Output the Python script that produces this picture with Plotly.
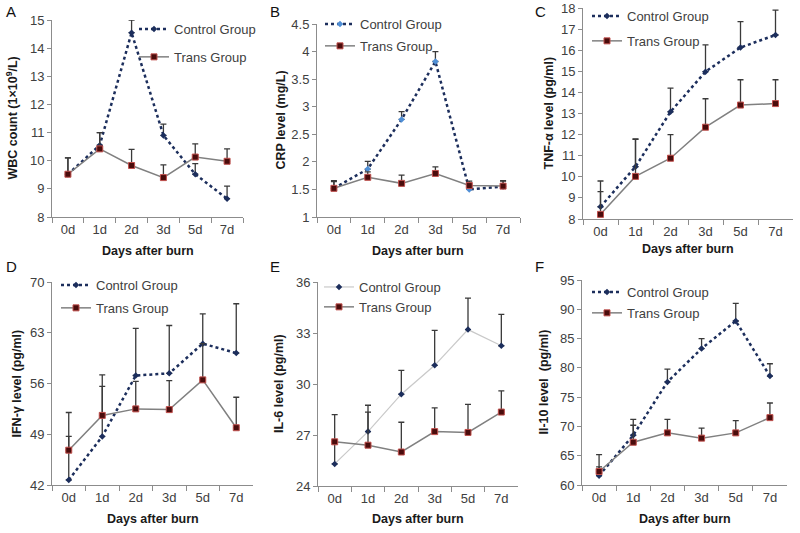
import plotly.graph_objects as go

# Shared categories
days = ["0d", "1d", "2d", "3d", "5d", "7d"]

# A - WBC count
wbc_ctrl = [9.52, 10.55, 14.55, 10.9, 9.52, 8.65]
wbc_ctrl_sd = [0.58, 0.45, 0.45, 0.4, 0.38, 0.45]
wbc_trans = [9.52, 10.42, 9.83, 9.4, 10.13, 9.98]
wbc_trans_sd = [0.58, 0.58, 0.57, 0.45, 0.47, 0.44]

# B - CRP
crp_ctrl = [1.52, 1.87, 2.77, 3.82, 1.5, 1.55]
crp_ctrl_sd = [0.14, 0.14, 0.14, 0.18, 0.12, 0.1]
crp_trans = [1.52, 1.72, 1.61, 1.79, 1.57, 1.56]
crp_trans_sd = [0.12, 0.1, 0.15, 0.12, 0.08, 0.1]

# C - TNF-alpha
tnf_ctrl = [8.58, 10.48, 13.08, 14.98, 16.13, 16.72]
tnf_ctrl_sd = [1.22, 1.32, 1.12, 1.27, 1.22, 1.18]
tnf_trans = [8.22, 10.02, 10.88, 12.35, 13.4, 13.47]
tnf_trans_sd = [1.08, 1.75, 1.12, 1.35, 1.2, 1.13]

# D - IFN-gamma
ifn_ctrl = [42.7, 48.7, 57.1, 57.4, 61.5, 60.2]
ifn_ctrl_sd = [6.0, 6.9, 6.5, 6.6, 4.1, 6.8]
ifn_trans = [46.8, 51.6, 52.5, 52.4, 56.5, 49.9]
ifn_trans_sd = [5.2, 5.6, 3.8, 4.0, 5.0, 4.2]

# E - IL-6
il6_ctrl = [25.3, 27.2, 29.4, 31.1, 33.2, 32.25]
il6_ctrl_sd = [1.3, 1.15, 1.4, 2.05, 1.85, 1.85]
il6_trans = [26.6, 26.4, 26.0, 27.2, 27.15, 28.35]
il6_trans_sd = [1.6, 2.35, 1.75, 1.4, 1.65, 1.25]

# F - IL-10
il10_ctrl = [61.6, 68.5, 77.6, 83.3, 88.0, 78.6]
il10_ctrl_sd = [1.5, 1.7, 2.2, 1.7, 3.0, 2.1]
il10_trans = [62.3, 67.3, 68.9, 68.0, 68.9, 71.5]
il10_trans_sd = [2.9, 3.9, 2.3, 1.7, 2.1, 2.5]

W, H = 800, 533
NAVY = "#1c2e5c"
FONT = "Liberation Sans, Arial, sans-serif"


def px_x(v):
    return v / W


def px_y(v):
    return 1 - v / H


# layout of each panel in pixels: plot box, legend spot (left, top, gap), label spots
panels = [
    dict(letter="A", ctrl=wbc_ctrl, ctrl_sd=wbc_ctrl_sd, trans=wbc_trans, trans_sd=wbc_trans_sd,
         ytitle="WBC count (1×10<sup>9</sup>/L)", yr=[8, 15], dtick=1,
         box=(52, 243, 20, 217), leg=(134, 14, 8), letter_xy=(4, 12), ytitle_x=12, xtitle_y=251,
         mcolor=NAVY, dot=True),
    dict(letter="B", ctrl=crp_ctrl, ctrl_sd=crp_ctrl_sd, trans=crp_trans, trans_sd=crp_trans_sd,
         ytitle="CRP level (mg/L)", yr=[1, 4.5], dtick=0.5,
         box=(317, 520, 24, 217), leg=(320, 9, 2), letter_xy=(268, 12), ytitle_x=280, xtitle_y=251,
         mcolor="#4f8fd6", dot=True),
    dict(letter="C", ctrl=tnf_ctrl, ctrl_sd=tnf_ctrl_sd, trans=tnf_trans, trans_sd=tnf_trans_sd,
         ytitle="TNF-α level (pg/ml)", yr=[8, 18], dtick=1,
         box=(583, 793, 8, 219), leg=(587, 1, 5), letter_xy=(533, 12), ytitle_x=548, xtitle_y=249,
         mcolor=NAVY, dot=True),
    dict(letter="D", ctrl=ifn_ctrl, ctrl_sd=ifn_ctrl_sd, trans=ifn_trans, trans_sd=ifn_trans_sd,
         ytitle="IFN-γ level (pg/ml)", yr=[42, 70], dtick=7,
         box=(52, 253, 282, 485), leg=(56, 270, 3), letter_xy=(4, 266), ytitle_x=16, xtitle_y=519,
         mcolor=NAVY, dot=True),
    dict(letter="E", ctrl=il6_ctrl, ctrl_sd=il6_ctrl_sd, trans=il6_trans, trans_sd=il6_trans_sd,
         ytitle="IL-6 level (pg/ml)", yr=[24, 36], dtick=3,
         box=(318, 518, 282, 486), leg=(319, 272, 0), letter_xy=(268, 266), ytitle_x=279, xtitle_y=519,
         mcolor=NAVY, dot=False),
    dict(letter="F", ctrl=il10_ctrl, ctrl_sd=il10_ctrl_sd, trans=il10_trans, trans_sd=il10_trans_sd,
         ytitle="Il-10 level&nbsp; (pg/ml)", yr=[60, 95], dtick=5,
         box=(582, 787, 280, 485), leg=(587, 277, 1), letter_xy=(533, 266), ytitle_x=543, xtitle_y=519,
         mcolor=NAVY, dot=True),
]

fig = go.Figure()
layout = {}
annotations = []

for i, p in enumerate(panels, start=1):
    sfx = "" if i == 1 else str(i)
    xa, ya = "x" + sfx, "y" + sfx
    leg = "legend" + sfx
    x0, x1, y0, y1 = p["box"]

    if p["dot"]:
        cline = dict(color=NAVY, width=2.5, dash="dot")
    else:
        cline = dict(color="#c9c9c9", width=1.2)

    fig.add_trace(go.Scatter(
        x=days, y=p["ctrl"], name="Control Group", mode="lines+markers",
        line=cline, marker=dict(symbol="diamond", size=5, color=p["mcolor"]),
        error_y=dict(type="data", symmetric=False, array=p["ctrl_sd"], arrayminus=[0] * 6,
                     color="#3a3a3a", thickness=1.3, width=3),
        xaxis=xa, yaxis=ya, legend=leg, legendgroup="c" + sfx,
    ))
    fig.add_trace(go.Scatter(
        x=days, y=p["trans"], name="Trans Group", mode="lines+markers",
        line=dict(color="#808080", width=1.5),
        marker=dict(symbol="square", size=6, color="#4a0c0c", line=dict(color="#c0504d", width=1)),
        error_y=dict(type="data", symmetric=False, array=p["trans_sd"], arrayminus=[0] * 6,
                     color="#3a3a3a", thickness=1.3, width=3),
        xaxis=xa, yaxis=ya, legend=leg, legendgroup="t" + sfx,
    ))

    axis_common = dict(
        showline=True, linecolor="#8c8c8c", linewidth=1, showgrid=False, zeroline=False,
        ticks="outside", tickcolor="#8c8c8c", ticklen=5, automargin=False,
        tickfont=dict(family=FONT, size=13, color="#404040"),
    )
    layout["xaxis" + sfx] = dict(
        axis_common, domain=[px_x(x0), px_x(x1)], anchor=ya, type="category",
        range=[-0.5, 5.5], tickson="boundaries",
    )
    layout["yaxis" + sfx] = dict(
        axis_common, domain=[px_y(y1), px_y(y0)], anchor=xa, range=p["yr"],
        dtick=p["dtick"], tick0=p["yr"][0], ticklen=4,
    )

    lx, ly, gap = p["leg"]
    layout[leg] = dict(
        x=px_x(lx), y=px_y(ly), xanchor="left", yanchor="top", bgcolor="rgba(0,0,0,0)",
        font=dict(family=FONT, size=13, color="#404040"), tracegroupgap=gap, itemwidth=30,
    )

    # panel letter
    annotations.append(dict(
        text=p["letter"], x=px_x(p["letter_xy"][0]), y=px_y(p["letter_xy"][1]),
        xref="paper", yref="paper", xanchor="left", yanchor="middle", showarrow=False,
        font=dict(family=FONT, size=15, color="#111111"),
    ))
    # axis titles
    annotations.append(dict(
        text="<b>Days after burn</b>", x=px_x((x0 + x1) / 2), y=px_y(p["xtitle_y"]),
        xref="paper", yref="paper", xanchor="center", yanchor="middle", showarrow=False,
        font=dict(family=FONT, size=12.5, color="#1a1a1a"),
    ))
    annotations.append(dict(
        text="<b>" + p["ytitle"] + "</b>", x=px_x(p["ytitle_x"]), y=px_y((y0 + y1) / 2),
        xref="paper", yref="paper", xanchor="center", yanchor="middle", textangle=-90,
        showarrow=False, font=dict(family=FONT, size=12.5, color="#1a1a1a"),
    ))

fig.update_layout(
    width=W, height=H, margin=dict(l=0, r=0, t=0, b=0, autoexpand=False),
    paper_bgcolor="white", plot_bgcolor="white",
    annotations=annotations, showlegend=True,
    **layout,
)

# drop the default page margin so the 800x533 figure fills the window
fig.write_html(
    "out.html",
    config={"displayModeBar": False},
    post_script="document.body.style.margin = '0px';",
)
